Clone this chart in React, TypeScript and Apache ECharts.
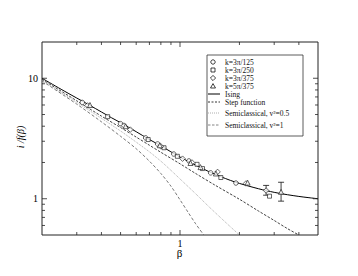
import React, { useEffect, useRef } from 'react';
import * as echarts from 'echarts';

// Theory curves
const isingX = [0.2, 0.25, 0.3, 0.35, 0.4, 0.45, 0.5, 0.6, 0.7, 0.8, 0.9, 1.0, 1.2, 1.4, 1.6, 1.8, 2.0, 2.5, 3.0, 3.5, 4.0, 4.5, 5.0];
const isingY = [10.0, 8.1, 6.85, 5.95, 5.25, 4.7, 4.28, 3.6, 3.1, 2.75, 2.45, 2.22, 1.9, 1.68, 1.53, 1.42, 1.34, 1.21, 1.13, 1.08, 1.045, 1.02, 1.0];
const stepX = [0.2, 0.3, 0.4, 0.5, 0.6, 0.7, 0.8, 1.0, 1.2, 1.5, 2.0, 2.5, 3.0, 3.5, 4.0];
const stepY = [9.8, 6.5, 4.85, 3.9, 3.25, 2.78, 2.43, 1.95, 1.62, 1.3, 0.99, 0.79, 0.66, 0.565, 0.5];
const semi05X = [0.2, 0.3, 0.4, 0.5, 0.6, 0.7, 0.8, 0.9, 1.0, 1.2, 1.4, 1.6, 1.8, 2.0];
const semi05Y = [9.6, 6.3, 4.65, 3.65, 2.95, 2.45, 2.05, 1.72, 1.46, 1.1, 0.86, 0.7, 0.585, 0.5];
const semi1X = [0.2, 0.3, 0.4, 0.5, 0.6, 0.7, 0.8, 0.9, 1.0, 1.1, 1.2, 1.32];
const semi1Y = [9.5, 6.1, 4.35, 3.3, 2.6, 2.05, 1.62, 1.27, 0.98, 0.77, 0.62, 0.5];

// Simulation data
const circleBeta = [0.32, 0.5, 0.67, 0.77, 0.93, 1.11, 1.43, 1.92];
const circleVal = [6.3, 4.2, 3.2, 2.85, 2.35, 2.06, 1.64, 1.35];
const squareBeta = [0.43, 0.69, 0.83, 0.97, 1.22, 1.3, 1.61, 2.84];
const squareVal = [4.8, 3.1, 2.65, 2.25, 1.93, 1.78, 1.5, 1.05];
const diamondBeta = [0.34, 0.52, 0.56, 0.8, 1.03, 1.15, 1.55, 2.16, 2.73];
const diamondVal = [5.95, 4.05, 3.75, 2.72, 2.15, 2.0, 1.67, 1.34, 1.17];
const triangleBeta = [0.35, 0.53, 0.79, 1.13, 1.27, 1.52, 2.2, 3.25];
const triangleVal = [6.0, 4.0, 2.78, 1.98, 1.83, 1.62, 1.36, 1.14];

const errBeta = [2.73, 3.25];
const errLow = [1.07, 0.955];
const errHigh = [1.29, 1.37];

// Axis ticks
const xTicks = [0.3, 0.4, 0.5, 0.6, 0.7, 0.8, 0.9, 1, 2, 3, 4];
const xMajor = [1];
const yTicks = [0.6, 0.7, 0.8, 0.9, 1, 2, 3, 4, 5, 6, 7, 8, 9, 10];
const yMajor = [1, 10];
const xLabels = [1];
const yLabels = [1, 10];

const legendNames = ['k=3π/125', 'k=3π/250', 'k=3π/375', 'k=5π/375', 'Ising', 'Step function', 'Semiclassical, v²=0.5', 'Semiclassical, v²=1'];

const X_MIN = 0.2, X_MAX = 5, Y_MIN = 0.5, Y_MAX = 20;
const FONT = 'Liberation Serif';

const zip = (a: number[], b: number[]) => a.map((v, i) => [v, b[i]]);

export default function App() {
  const ref = useRef<HTMLDivElement>(null);
  useEffect(() => {
    if (!ref.current) return;
    const chart = echarts.init(ref.current, undefined, { renderer: 'svg' });
    const markerStyle = { color: '#fff', borderColor: '#111', borderWidth: 0.8 };
    const scatter = (name: string, sym: string, xs: number[], ys: number[], size: number) => ({
      type: 'scatter', name, symbol: sym, symbolSize: size, data: zip(xs, ys), itemStyle: markerStyle, z: 5,
    });
    const line = (name: string, xs: number[], ys: number[], color: string, type: any, width: number) => ({
      type: 'line', name, data: zip(xs, ys), showSymbol: false, symbol: 'none', smooth: 0.3,
      lineStyle: { color, type, width }, z: 3,
    });
    const tickLen = (major: boolean) => (major ? 5 : 3);
    const tickColor = '#222';

    const rows = [62, 70, 78, 86, 94, 102, 113, 125];
    const lx = 225;
    const symX = 213;
    const legendGraphics: any[] = [
      { type: 'rect', shape: { x: 207, y: 55, width: 96, height: 81 }, style: { fill: '#fff', stroke: '#333', lineWidth: 0.8 }, z: 10 },
      { type: 'circle', shape: { cx: symX, cy: rows[0], r: 2.2 }, style: { fill: '#fff', stroke: '#111', lineWidth: 0.8 }, z: 11 },
      { type: 'rect', shape: { x: symX - 2, y: rows[1] - 2, width: 4, height: 4 }, style: { fill: '#fff', stroke: '#111', lineWidth: 0.8 }, z: 11 },
      { type: 'polygon', shape: { points: [[symX, rows[2] - 2.6], [symX + 2.6, rows[2]], [symX, rows[2] + 2.6], [symX - 2.6, rows[2]]] }, style: { fill: '#fff', stroke: '#111', lineWidth: 0.8 }, z: 11 },
      { type: 'polygon', shape: { points: [[symX, rows[3] - 2.4], [symX + 2.5, rows[3] + 2], [symX - 2.5, rows[3] + 2]] }, style: { fill: '#fff', stroke: '#111', lineWidth: 0.8 }, z: 11 },
      { type: 'line', shape: { x1: 208, y1: rows[4], x2: 220, y2: rows[4] }, style: { stroke: '#000', lineWidth: 1 }, z: 11 },
      { type: 'line', shape: { x1: 208, y1: rows[5], x2: 220, y2: rows[5] }, style: { stroke: '#000', lineWidth: 0.8, lineDash: [2, 1.5] }, z: 11 },
      { type: 'line', shape: { x1: 208, y1: rows[6], x2: 220, y2: rows[6] }, style: { stroke: '#999', lineWidth: 0.8, lineDash: [1, 1] }, z: 11 },
      { type: 'line', shape: { x1: 208, y1: rows[7], x2: 220, y2: rows[7] }, style: { stroke: '#666', lineWidth: 0.8, lineDash: [2.5, 1.5] }, z: 11 },
    ];
    legendNames.forEach((nm, i) => {
      legendGraphics.push({
        type: 'text', x: lx, y: rows[i], z: 11,
        style: {
          text: nm, fill: '#111', fontFamily: FONT, fontSize: 7.5, lineHeight: 7,
          verticalAlign: 'middle', align: 'left',
        },
      });
    });

    chart.setOption({
      animation: false,
      grid: { left: 42, right: 40, top: 42, bottom: 41, show: true, borderColor: '#222', borderWidth: 1, backgroundColor: 'transparent' },
      xAxis: {
        type: 'log', logBase: 10, min: X_MIN, max: X_MAX,
        axisLine: { show: false }, axisTick: { show: false }, splitLine: { show: false },
        axisLabel: {
          margin: 3, fontFamily: FONT, fontSize: 10, color: '#000',
          formatter: (v: number) => (xLabels.some((l) => Math.abs(v - l) < 1e-6) ? String(Math.round(v)) : ''),
        },
      },
      yAxis: {
        type: 'log', logBase: 10, min: Y_MIN, max: Y_MAX,
        axisLine: { show: false }, axisTick: { show: false }, splitLine: { show: false },
        axisLabel: {
          margin: 4, fontFamily: FONT, fontSize: 10, color: '#000',
          formatter: (v: number) => (yLabels.some((l) => Math.abs(v - l) < 1e-6) ? String(Math.round(v)) : ''),
        },
      },
      graphic: [
        { type: 'text', x: 179.5, y: 253, style: { text: 'β', fontFamily: FONT, fontSize: 11, fill: '#000', align: 'center', verticalAlign: 'middle' } },
        { type: 'text', x: 20, y: 137, rotation: Math.PI / 2, style: { text: 'i /f(β)', fontFamily: FONT, fontSize: 10, fontStyle: 'italic', fill: '#000', align: 'center', verticalAlign: 'middle' } },
        ...legendGraphics,
      ],
      series: [
        line('Semiclassical, v²=1', semi1X, semi1Y, '#555', [3, 2], 0.8),
        line('Semiclassical, v²=0.5', semi05X, semi05Y, '#999', [1, 1], 0.8),
        line('Step function', stepX, stepY, '#111', [2.5, 1.5], 0.8),
        line('Ising', isingX, isingY, '#000', 'solid', 1),
        scatter(legendNames[0], 'circle', circleBeta, circleVal, 4.5),
        scatter(legendNames[1], 'rect', squareBeta, squareVal, 4),
        scatter(legendNames[2], 'diamond', diamondBeta, diamondVal, 5.5),
        scatter(legendNames[3], 'triangle', triangleBeta, triangleVal, 5),
        {
          type: 'custom', name: 'errorbars', z: 4,
          data: errBeta.map((b, i) => [b, errLow[i], errHigh[i]]),
          renderItem: (params: any, api: any) => {
            const b = api.value(0);
            const lo = api.coord([b, api.value(1)]);
            const hi = api.coord([b, api.value(2)]);
            const w = 3;
            const st = { stroke: '#111', lineWidth: 0.8 };
            return {
              type: 'group', children: [
                { type: 'line', shape: { x1: lo[0], y1: lo[1], x2: hi[0], y2: hi[1] }, style: st },
                { type: 'line', shape: { x1: lo[0] - w, y1: lo[1], x2: lo[0] + w, y2: lo[1] }, style: st },
                { type: 'line', shape: { x1: hi[0] - w, y1: hi[1], x2: hi[0] + w, y2: hi[1] }, style: st },
              ],
            };
          },
        },
        {
          type: 'custom', name: 'xticks', z: 6, clip: false, silent: true,
          data: xTicks.map((v) => [v, 1]),
          renderItem: (params: any, api: any) => {
            const v = api.value(0);
            const b = api.coord([v, Y_MIN]);
            const t = api.coord([v, Y_MAX]);
            const L = tickLen(xMajor.includes(v));
            const st = { stroke: tickColor, lineWidth: 0.8 };
            return {
              type: 'group', children: [
                { type: 'line', shape: { x1: b[0], y1: b[1], x2: b[0], y2: b[1] - L }, style: st },
                { type: 'line', shape: { x1: t[0], y1: t[1], x2: t[0], y2: t[1] + L }, style: st },
              ],
            };
          },
        },
        {
          type: 'custom', name: 'yticks', z: 6, clip: false, silent: true,
          data: yTicks.map((v) => [1, v]),
          renderItem: (params: any, api: any) => {
            const v = api.value(1);
            const l = api.coord([X_MIN, v]);
            const r = api.coord([X_MAX, v]);
            const L = tickLen(yMajor.includes(v));
            const st = { stroke: tickColor, lineWidth: 0.8 };
            return {
              type: 'group', children: [
                { type: 'line', shape: { x1: l[0], y1: l[1], x2: l[0] + L, y2: l[1] }, style: st },
                { type: 'line', shape: { x1: r[0], y1: r[1], x2: r[0] - L, y2: r[1] }, style: st },
              ],
            };
          },
        },
      ],
    });
    return () => chart.dispose();
  }, []);
  return <div ref={ref} style={{ position: 'absolute', left: 0, top: 0, width: 358, height: 276, background: '#fff' }} />;
}
